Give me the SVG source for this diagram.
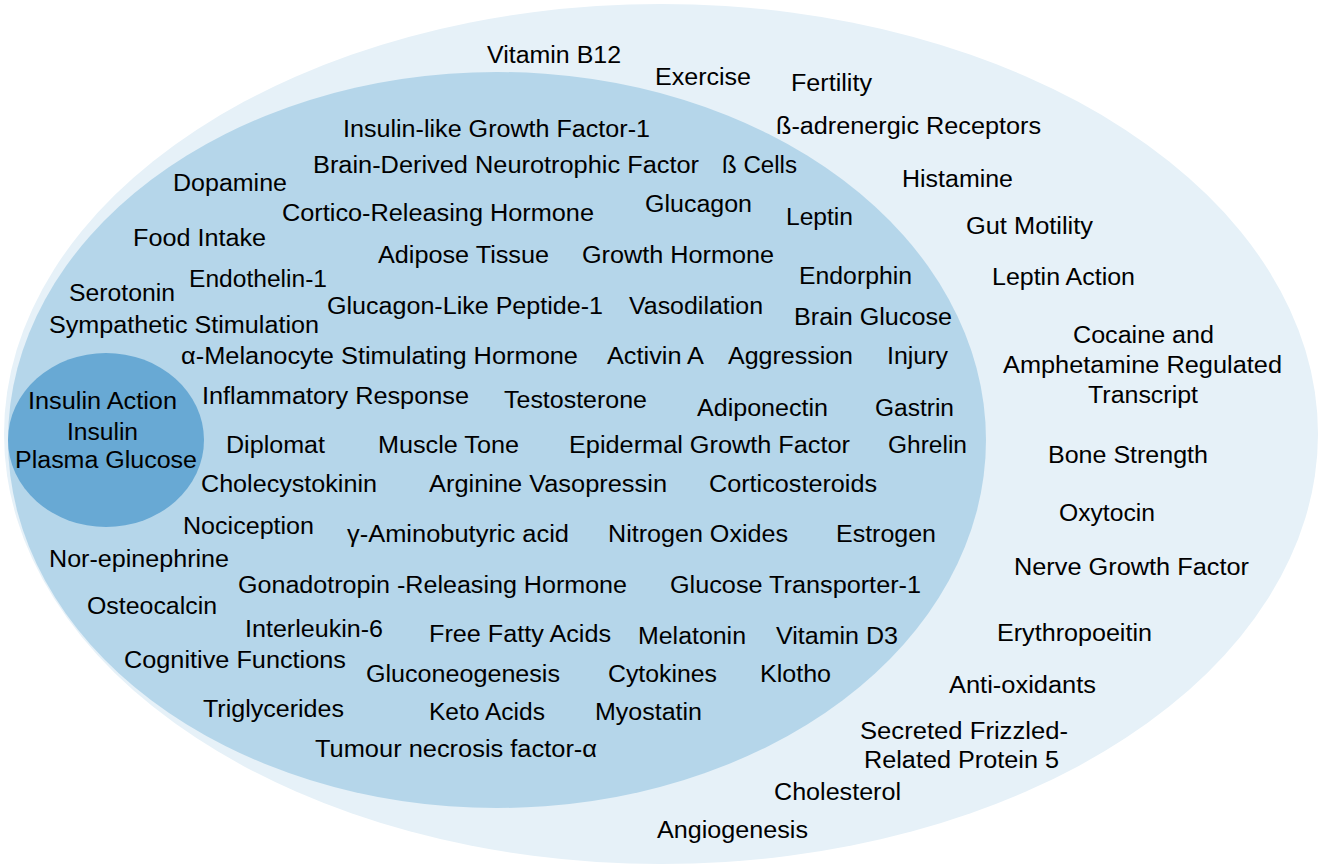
<svg xmlns="http://www.w3.org/2000/svg" width="1322" height="867" viewBox="0 0 1322 867">
<style>
text{font-family:"Liberation Sans",Arial,sans-serif;font-size:23px;fill:#000;}
.o{fill:#E6F1F8;}
.m{fill:#B5D6EA;}
.i{fill:#68A9D4;}
</style>
<rect width="1322" height="867" fill="#FFFFFF"/>
<g id="outer-set">
<ellipse class="o" cx="661" cy="434" rx="657" ry="430"/>
</g>
<g id="middle-set">
<ellipse class="m" cx="497" cy="440" rx="489" ry="368"/>
</g>
<g id="inner-set">
<ellipse class="i" cx="106" cy="440" rx="98" ry="87"/>
<text x="28" y="409" textLength="149" lengthAdjust="spacingAndGlyphs">Insulin Action</text>
<text x="67" y="440" textLength="71" lengthAdjust="spacingAndGlyphs">Insulin</text>
<text x="15" y="468" textLength="182" lengthAdjust="spacingAndGlyphs">Plasma Glucose</text>
</g>
<g id="outer-labels">
<g id="n-vitb12"><text x="487" y="63" textLength="134" lengthAdjust="spacingAndGlyphs">Vitamin B12</text></g>
<g id="n-exercise"><text x="655" y="85" textLength="96" lengthAdjust="spacingAndGlyphs">Exercise</text></g>
<g id="n-fertility"><text x="791" y="91" textLength="81" lengthAdjust="spacingAndGlyphs">Fertility</text></g>
<g id="n-badr"><text x="776" y="134" textLength="265" lengthAdjust="spacingAndGlyphs">ß-adrenergic Receptors</text></g>
<g id="n-histamine"><text x="902" y="187" textLength="111" lengthAdjust="spacingAndGlyphs">Histamine</text></g>
<g id="n-gut"><text x="966" y="234" textLength="127" lengthAdjust="spacingAndGlyphs">Gut Motility</text></g>
<g id="n-leptinaction"><text x="992" y="285" textLength="143" lengthAdjust="spacingAndGlyphs">Leptin Action</text></g>
<g id="n-cart">
<text x="1073" y="343" textLength="141" lengthAdjust="spacingAndGlyphs">Cocaine and</text>
<text x="1003" y="373" textLength="279" lengthAdjust="spacingAndGlyphs">Amphetamine Regulated</text>
<text x="1088" y="403" textLength="110" lengthAdjust="spacingAndGlyphs">Transcript</text>
</g>
<g id="n-bone"><text x="1048" y="463" textLength="160" lengthAdjust="spacingAndGlyphs">Bone Strength</text></g>
<g id="n-oxytocin"><text x="1059" y="521" textLength="96" lengthAdjust="spacingAndGlyphs">Oxytocin</text></g>
<g id="n-ngf"><text x="1014" y="575" textLength="235" lengthAdjust="spacingAndGlyphs">Nerve Growth Factor</text></g>
<g id="n-epo"><text x="997" y="641" textLength="155" lengthAdjust="spacingAndGlyphs">Erythropoeitin</text></g>
<g id="n-antiox"><text x="949" y="693" textLength="147" lengthAdjust="spacingAndGlyphs">Anti-oxidants</text></g>
<g id="n-sfrp5">
<text x="860" y="739" textLength="208" lengthAdjust="spacingAndGlyphs">Secreted Frizzled-</text>
<text x="864" y="768" textLength="195" lengthAdjust="spacingAndGlyphs">Related Protein 5</text>
</g>
<g id="n-chol"><text x="774" y="800" textLength="127" lengthAdjust="spacingAndGlyphs">Cholesterol</text></g>
<g id="n-angio"><text x="657" y="838" textLength="151" lengthAdjust="spacingAndGlyphs">Angiogenesis</text></g>
</g>
<g id="middle-labels">
<g id="n-igf1"><text x="343" y="137" textLength="307" lengthAdjust="spacingAndGlyphs">Insulin-like Growth Factor-1</text></g>
<g id="n-bdnf"><text x="313" y="173" textLength="386" lengthAdjust="spacingAndGlyphs">Brain-Derived Neurotrophic Factor</text></g>
<g id="n-bcells"><text x="722" y="173" textLength="75" lengthAdjust="spacingAndGlyphs">ß Cells</text></g>
<g id="n-dopamine"><text x="173" y="191" textLength="114" lengthAdjust="spacingAndGlyphs">Dopamine</text></g>
<g id="n-crh"><text x="282" y="221" textLength="312" lengthAdjust="spacingAndGlyphs">Cortico-Releasing Hormone</text></g>
<g id="n-glucagon"><text x="645" y="212" textLength="107" lengthAdjust="spacingAndGlyphs">Glucagon</text></g>
<g id="n-leptin"><text x="786" y="225" textLength="67" lengthAdjust="spacingAndGlyphs">Leptin</text></g>
<g id="n-food"><text x="133" y="246" textLength="133" lengthAdjust="spacingAndGlyphs">Food Intake</text></g>
<g id="n-adipose"><text x="378" y="263" textLength="171" lengthAdjust="spacingAndGlyphs">Adipose Tissue</text></g>
<g id="n-gh"><text x="582" y="263" textLength="192" lengthAdjust="spacingAndGlyphs">Growth Hormone</text></g>
<g id="n-et1"><text x="189" y="287" textLength="138" lengthAdjust="spacingAndGlyphs">Endothelin-1</text></g>
<g id="n-endorphin"><text x="799" y="284" textLength="113" lengthAdjust="spacingAndGlyphs">Endorphin</text></g>
<g id="n-serotonin"><text x="69" y="301" textLength="106" lengthAdjust="spacingAndGlyphs">Serotonin</text></g>
<g id="n-glp1"><text x="327" y="314" textLength="276" lengthAdjust="spacingAndGlyphs">Glucagon-Like Peptide-1</text></g>
<g id="n-vaso"><text x="629" y="314" textLength="134" lengthAdjust="spacingAndGlyphs">Vasodilation</text></g>
<g id="n-brainglu"><text x="794" y="325" textLength="158" lengthAdjust="spacingAndGlyphs">Brain Glucose</text></g>
<g id="n-symp"><text x="49" y="333" textLength="270" lengthAdjust="spacingAndGlyphs">Sympathetic Stimulation</text></g>
<g id="n-amsh"><text x="181" y="364" textLength="397" lengthAdjust="spacingAndGlyphs">α-Melanocyte Stimulating Hormone</text></g>
<g id="n-activin"><text x="607" y="364" textLength="97" lengthAdjust="spacingAndGlyphs">Activin A</text></g>
<g id="n-aggr"><text x="728" y="364" textLength="125" lengthAdjust="spacingAndGlyphs">Aggression</text></g>
<g id="n-injury"><text x="887" y="364" textLength="61" lengthAdjust="spacingAndGlyphs">Injury</text></g>
<g id="n-inflam"><text x="202" y="404" textLength="267" lengthAdjust="spacingAndGlyphs">Inflammatory Response</text></g>
<g id="n-testo"><text x="504" y="408" textLength="143" lengthAdjust="spacingAndGlyphs">Testosterone</text></g>
<g id="n-adipo"><text x="697" y="416" textLength="131" lengthAdjust="spacingAndGlyphs">Adiponectin</text></g>
<g id="n-gastrin"><text x="875" y="416" textLength="79" lengthAdjust="spacingAndGlyphs">Gastrin</text></g>
<g id="n-diplomat"><text x="226" y="453" textLength="99" lengthAdjust="spacingAndGlyphs">Diplomat</text></g>
<g id="n-muscle"><text x="378" y="453" textLength="141" lengthAdjust="spacingAndGlyphs">Muscle Tone</text></g>
<g id="n-egf"><text x="569" y="453" textLength="281" lengthAdjust="spacingAndGlyphs">Epidermal Growth Factor</text></g>
<g id="n-ghrelin"><text x="888" y="453" textLength="79" lengthAdjust="spacingAndGlyphs">Ghrelin</text></g>
<g id="n-cck"><text x="201" y="492" textLength="176" lengthAdjust="spacingAndGlyphs">Cholecystokinin</text></g>
<g id="n-avp"><text x="429" y="492" textLength="238" lengthAdjust="spacingAndGlyphs">Arginine Vasopressin</text></g>
<g id="n-cortico"><text x="709" y="492" textLength="168" lengthAdjust="spacingAndGlyphs">Corticosteroids</text></g>
<g id="n-noci"><text x="183" y="534" textLength="131" lengthAdjust="spacingAndGlyphs">Nociception</text></g>
<g id="n-gaba"><text x="347" y="542" textLength="222" lengthAdjust="spacingAndGlyphs">γ-Aminobutyric acid</text></g>
<g id="n-no"><text x="608" y="542" textLength="180" lengthAdjust="spacingAndGlyphs">Nitrogen Oxides</text></g>
<g id="n-estrogen"><text x="836" y="542" textLength="100" lengthAdjust="spacingAndGlyphs">Estrogen</text></g>
<g id="n-norepi"><text x="49" y="567" textLength="180" lengthAdjust="spacingAndGlyphs">Nor-epinephrine</text></g>
<g id="n-gnrh"><text x="238" y="593" textLength="389" lengthAdjust="spacingAndGlyphs">Gonadotropin -Releasing Hormone</text></g>
<g id="n-glut1"><text x="670" y="593" textLength="251" lengthAdjust="spacingAndGlyphs">Glucose Transporter-1</text></g>
<g id="n-osteo"><text x="87" y="614" textLength="130" lengthAdjust="spacingAndGlyphs">Osteocalcin</text></g>
<g id="n-il6"><text x="245" y="637" textLength="138" lengthAdjust="spacingAndGlyphs">Interleukin-6</text></g>
<g id="n-ffa"><text x="429" y="642" textLength="182" lengthAdjust="spacingAndGlyphs">Free Fatty Acids</text></g>
<g id="n-melatonin"><text x="638" y="644" textLength="108" lengthAdjust="spacingAndGlyphs">Melatonin</text></g>
<g id="n-vitd3"><text x="776" y="644" textLength="122" lengthAdjust="spacingAndGlyphs">Vitamin D3</text></g>
<g id="n-cogn"><text x="124" y="668" textLength="222" lengthAdjust="spacingAndGlyphs">Cognitive Functions</text></g>
<g id="n-gng"><text x="366" y="682" textLength="194" lengthAdjust="spacingAndGlyphs">Gluconeogenesis</text></g>
<g id="n-cyto"><text x="608" y="682" textLength="109" lengthAdjust="spacingAndGlyphs">Cytokines</text></g>
<g id="n-klotho"><text x="760" y="682" textLength="71" lengthAdjust="spacingAndGlyphs">Klotho</text></g>
<g id="n-tg"><text x="203" y="717" textLength="141" lengthAdjust="spacingAndGlyphs">Triglycerides</text></g>
<g id="n-keto"><text x="429" y="720" textLength="116" lengthAdjust="spacingAndGlyphs">Keto Acids</text></g>
<g id="n-myostatin"><text x="595" y="720" textLength="107" lengthAdjust="spacingAndGlyphs">Myostatin</text></g>
<g id="n-tnf"><text x="315" y="757" textLength="282" lengthAdjust="spacingAndGlyphs">Tumour necrosis factor-α</text></g>
</g>
</svg>
